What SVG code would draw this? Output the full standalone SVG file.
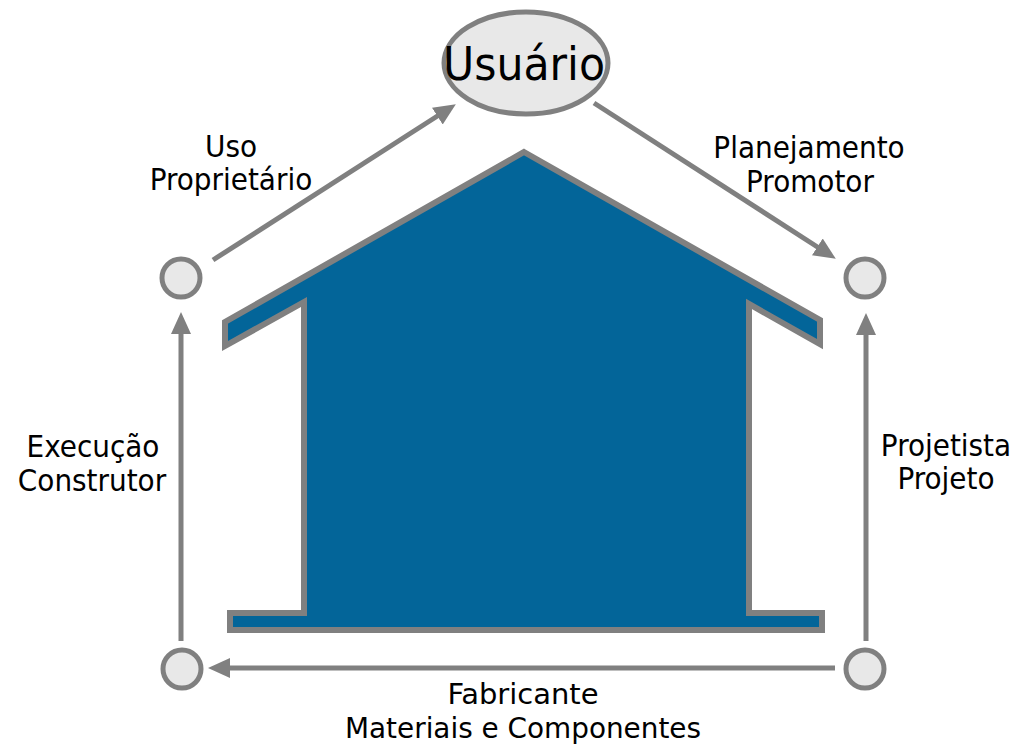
<svg xmlns="http://www.w3.org/2000/svg" width="1023" height="747" viewBox="0 0 1023 747">
<defs>
<marker id="arr" markerUnits="userSpaceOnUse" markerWidth="24" markerHeight="22" refX="2" refY="10" orient="auto">
<path d="M0,0 L22,10 L0,20 Z" fill="#808080"/>
</marker>
<style>
.lbl{font-family:"DejaVu Sans Condensed","DejaVu Sans","Liberation Sans",sans-serif;font-stretch:condensed;font-size:31px;fill:#000;text-anchor:middle}
.sm{font-size:29px}
.con{stroke:#808080;stroke-width:5;fill:none}
.node{fill:#e8e8e8;stroke:#808080;stroke-width:5}
</style>
</defs>
<rect width="1023" height="747" fill="#fff"/>
<g id="house">
<polygon points="524,152 820,320 820,344 749,304 749,613 822,613 822,630 230,630 230,613 304,613 304,302 225,346 225,322" fill="#036599" stroke="#808080" stroke-width="6" stroke-linejoin="miter"/>
</g>
<g id="connectors">
<line class="con" x1="213" y1="260" x2="439" y2="115" marker-end="url(#arr)"/>
<line class="con" x1="594" y1="103" x2="819" y2="248" marker-end="url(#arr)"/>
<line class="con" x1="866" y1="641" x2="866" y2="333" marker-end="url(#arr)"/>
<line class="con" x1="835" y1="668" x2="228" y2="668" marker-end="url(#arr)"/>
<line class="con" x1="181" y1="641" x2="181" y2="332" marker-end="url(#arr)"/>
</g>
<g id="usuario">
<ellipse class="node" cx="526" cy="63" rx="82" ry="51"/>
<text x="524" y="80" font-family="DejaVu Sans Condensed, DejaVu Sans, Liberation Sans, sans-serif" font-stretch="condensed" font-size="46" text-anchor="middle" textLength="162" lengthAdjust="spacingAndGlyphs">Usuário</text>
</g>
<g id="node-tl"><circle class="node" cx="181" cy="278" r="19"/></g>
<g id="node-tr"><circle class="node" cx="865" cy="278" r="19"/></g>
<g id="node-bl"><circle class="node" cx="182" cy="669" r="19"/></g>
<g id="node-br"><circle class="node" cx="865" cy="669" r="19"/></g>
<g id="labels">
<text class="lbl" x="231" y="157">Uso</text>
<text class="lbl" x="231" y="190">Proprietário</text>
<text class="lbl" x="809" y="158">Planejamento</text>
<text class="lbl" x="810" y="192">Promotor</text>
<text class="lbl" x="93" y="457">Execução</text>
<text class="lbl" x="92" y="491">Construtor</text>
<text class="lbl" x="946" y="456">Projetista</text>
<text class="lbl" x="946" y="489">Projeto</text>
<text class="lbl sm" x="523" y="704" textLength="151" lengthAdjust="spacingAndGlyphs">Fabricante</text>
<text class="lbl sm" x="523" y="738" textLength="356" lengthAdjust="spacingAndGlyphs">Materiais e Componentes</text>
</g>
</svg>
